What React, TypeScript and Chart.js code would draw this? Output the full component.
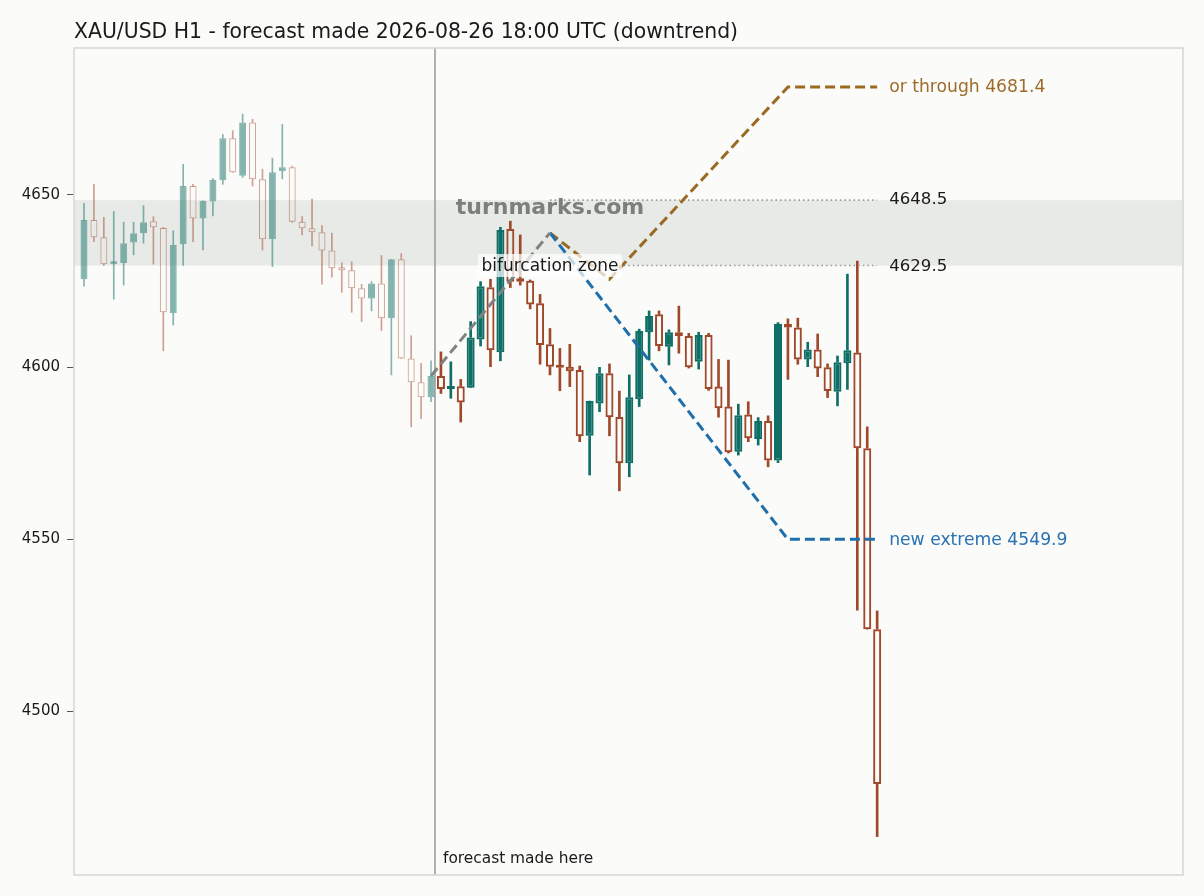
import React, { useEffect, useRef } from "react";
import { Chart, registerables } from "chart.js";

Chart.register(...registerables);

// ---------- data ----------
const histOpen = [4625.5, 4642.7, 4637.7, 4629.9, 4630.2, 4636.2, 4638.9, 4642.4, 4640.4, 4615.6, 4635.7, 4652.6, 4643.2, 4648.1, 4654.3, 4666.5, 4655.6, 4671.1, 4654.6, 4637.1, 4656.9, 4658.1, 4642.2, 4640.3, 4639.2, 4633.9, 4628.7, 4628.1, 4622.9, 4619.9, 4624.3, 4614.2, 4631.3, 4602.5, 4595.6, 4591.2];
const histHigh = [4647.6, 4653.1, 4643.5, 4645.2, 4642.1, 4642.1, 4646.9, 4643.7, 4640.6, 4639.6, 4658.9, 4653.1, 4648.3, 4654.8, 4667.6, 4668.7, 4673.5, 4672.0, 4657.5, 4660.7, 4670.5, 4658.4, 4643.7, 4648.8, 4641.1, 4638.9, 4630.3, 4630.6, 4624.0, 4624.8, 4632.4, 4631.3, 4633.0, 4609.1, 4601.1, 4601.8];
const histLow = [4623.5, 4636.4, 4629.5, 4619.7, 4623.8, 4632.6, 4636.0, 4629.9, 4604.7, 4612.2, 4629.5, 4636.4, 4634.0, 4643.9, 4653.1, 4656.6, 4655.1, 4652.6, 4634.0, 4629.2, 4654.7, 4642.0, 4638.4, 4635.2, 4624.1, 4626.1, 4621.7, 4615.9, 4613.2, 4616.3, 4610.6, 4597.7, 4602.5, 4582.6, 4585.0, 4589.9];
const histClose = [4642.7, 4637.7, 4629.9, 4630.3, 4636.0, 4638.9, 4642.1, 4640.6, 4615.9, 4635.5, 4652.6, 4643.2, 4648.3, 4654.4, 4666.5, 4656.6, 4671.1, 4654.6, 4637.1, 4656.6, 4658.1, 4642.2, 4640.3, 4639.2, 4633.9, 4628.7, 4628.1, 4622.9, 4619.9, 4624.3, 4614.2, 4631.3, 4602.5, 4595.6, 4591.2, 4597.4];

const FC_START = 36;
const fcOpen = [4597.4, 4593.6, 4594.4, 4594.0, 4608.0, 4623.2, 4604.3, 4640.1, 4625.8, 4625.1, 4618.5, 4606.6, 4600.1, 4600.1, 4599.1, 4580.0, 4589.4, 4598.2, 4585.5, 4572.0, 4590.6, 4610.1, 4615.3, 4605.9, 4610.1, 4609.0, 4601.5, 4609.3, 4594.3, 4588.5, 4575.4, 4586.2, 4579.1, 4584.3, 4572.8, 4612.5, 4611.5, 4602.2, 4605.1, 4599.9, 4592.8, 4601.1, 4604.2, 4576.4, 4523.8];
const fcHigh = [4604.4, 4601.5, 4596.4, 4613.2, 4624.8, 4625.5, 4640.6, 4642.4, 4638.4, 4625.3, 4621.1, 4611.2, 4605.4, 4606.6, 4600.3, 4590.1, 4599.9, 4600.9, 4593.0, 4597.7, 4611.0, 4616.3, 4616.3, 4610.8, 4617.7, 4609.8, 4610.1, 4609.8, 4602.2, 4602.0, 4589.2, 4589.9, 4585.3, 4585.8, 4612.9, 4614.0, 4614.2, 4607.2, 4609.6, 4600.9, 4603.2, 4627.0, 4630.8, 4582.6, 4529.1];
const fcLow = [4592.3, 4590.9, 4584.0, 4594.0, 4606.1, 4600.1, 4601.8, 4623.1, 4623.8, 4616.9, 4600.8, 4597.7, 4593.1, 4594.3, 4578.3, 4568.6, 4587.0, 4580.0, 4564.0, 4568.1, 4588.5, 4602.0, 4604.7, 4600.6, 4604.0, 4599.7, 4599.4, 4593.2, 4585.4, 4575.0, 4574.4, 4578.3, 4577.3, 4571.0, 4572.2, 4596.4, 4600.8, 4600.1, 4597.2, 4591.1, 4588.7, 4593.5, 4529.3, 4523.8, 4463.5];
const fcClose = [4593.6, 4594.4, 4589.7, 4608.6, 4623.5, 4604.9, 4639.8, 4624.8, 4624.8, 4618.2, 4606.4, 4600.1, 4599.8, 4598.8, 4579.9, 4590.1, 4598.2, 4585.4, 4572.0, 4591.2, 4610.5, 4614.8, 4606.1, 4610.1, 4609.0, 4599.9, 4609.3, 4593.6, 4588.0, 4575.2, 4586.0, 4579.3, 4584.3, 4572.8, 4612.5, 4611.5, 4602.2, 4605.1, 4599.6, 4593.0, 4601.4, 4604.9, 4576.4, 4523.8, 4478.8];

const leadX = [35, 47];
const leadY = [4597.4, 4639.0];
const upPathX = [47, 53, 71, 80];
const upPathY = [4639.0, 4625.5, 4681.4, 4681.4];
const downPathX = [47, 71, 80];
const downPathY = [4639.0, 4549.9, 4549.9];

const ZONE_HIGH = 4648.5;
const ZONE_LOW = 4629.5;
const ZONE_FROM = 47;
const ZONE_TO = 80;
const FORECAST_AT = 35.4;
const UP_TARGET = 4681.4;
const DOWN_TARGET = 4549.9;

const yTicks = [4500, 4550, 4600, 4650];
const X_MIN = -1.01;
const X_MAX = 110.85;
const Y_MIN = 4452.33;
const Y_MAX = 4692.73;

const TITLE = "XAU/USD H1 - forecast made 2026-08-26 18:00 UTC (downtrend)";

// ---------- styles ----------
const BG = "#fbfbf9";
const TEAL = "#0f6e66";
const BROWN = "#a0482a";
const TEAL_FADE = "rgba(15,110,102,0.5)";
const BROWN_FADE = "rgba(160,72,42,0.5)";
const FONT = "'DejaVu Sans', sans-serif";

function candleSets(open: number[], high: number[], low: number[], close: number[], start: number, faded: boolean) {
  const upC = faded ? TEAL_FADE : TEAL;
  const dnC = faded ? BROWN_FADE : BROWN;
  const wickW = faded ? 1 : 2;
  const bodyW = faded ? 7 : 8;
  const border = faded ? 1 : 2;
  const wickHi: any[] = [];
  const wickLo: any[] = [];
  const bodies: any[] = [];
  const wickColors: string[] = [];
  const bodyFill: string[] = [];
  const bodyBorder: string[] = [];
  open.forEach((o, i) => {
    const c = close[i];
    const up = c >= o;
    const top = Math.max(o, c);
    const bot = Math.min(o, c);
    const x = start + i;
    wickHi.push({ x, y: [top, high[i]] });
    wickLo.push({ x, y: [low[i], bot] });
    bodies.push({ x, y: [o, c] });
    wickColors.push(up ? upC : dnC);
    bodyFill.push(up ? upC : "rgba(0,0,0,0)");
    bodyBorder.push(up ? upC : dnC);
  });
  const base = { type: "bar" as const, grouped: false, order: 5, borderSkipped: false };
  return [
    { ...base, data: wickHi, barThickness: wickW, backgroundColor: wickColors, borderWidth: 0 },
    { ...base, data: wickLo, barThickness: wickW, backgroundColor: wickColors, borderWidth: 0 },
    {
      ...base,
      order: 4,
      data: bodies,
      barThickness: bodyW,
      backgroundColor: bodyFill,
      borderColor: bodyBorder,
      borderWidth: border,
      minBarLength: 3,
      inflateAmount: 0,
    },
  ];
}

function pts(xs: number[], ys: number[]) {
  return xs.map((x, i) => ({ x, y: ys[i] }));
}

const overlay = {
  id: "overlay",
  beforeDraw(chart: any) {
    const { ctx, width, height } = chart;
    ctx.save();
    ctx.fillStyle = BG;
    ctx.fillRect(0, 0, width, height);
    ctx.restore();
  },
  beforeDatasetsDraw(chart: any) {
    const { ctx, chartArea: a, scales } = chart;
    const y = scales.y;
    const x = scales.x;
    ctx.save();
    ctx.fillStyle = "#e8eae7";
    const y1 = y.getPixelForValue(ZONE_HIGH);
    const y2 = y.getPixelForValue(ZONE_LOW);
    ctx.fillRect(a.left, y1, a.right - a.left, y2 - y1);
    const fx = x.getPixelForValue(FORECAST_AT);
    ctx.strokeStyle = "#9aa09d";
    ctx.lineWidth = 1.6;
    ctx.beginPath();
    ctx.moveTo(fx, a.top);
    ctx.lineTo(fx, a.bottom);
    ctx.stroke();
    ctx.restore();
  },
  afterDatasetsDraw(chart: any) {
    const { ctx, chartArea: a, scales } = chart;
    const y = scales.y;
    const x = scales.x;
    ctx.save();
    // watermark
    ctx.font = `bold 22px ${FONT}`;
    ctx.fillStyle = "rgba(110,116,112,0.9)";
    ctx.textAlign = "center";
    ctx.textBaseline = "middle";
    ctx.fillText("turnmarks.com", x.getPixelForValue(ZONE_FROM), y.getPixelForValue(4646.2));

    // bifurcation label
    ctx.font = `17px ${FONT}`;
    const bx = x.getPixelForValue(ZONE_FROM);
    const by = y.getPixelForValue(ZONE_LOW);
    const tw = ctx.measureText("bifurcation zone").width;
    ctx.fillStyle = "rgba(255,255,255,0.72)";
    ctx.beginPath();
    (ctx as any).roundRect(bx - tw / 2 - 3.5, by - 11.5, tw + 7, 23, 3);
    ctx.fill();
    ctx.fillStyle = "#1a1a1a";
    ctx.fillText("bifurcation zone", bx, by + 1);

    // right labels
    const lx = x.getPixelForValue(ZONE_TO) + 12;
    ctx.textAlign = "left";
    ctx.font = `17.2px ${FONT}`;
    ctx.fillStyle = "#9c6c2a";
    ctx.fillText(`or through ${UP_TARGET.toFixed(1)}`, lx, y.getPixelForValue(UP_TARGET) + 1);
    ctx.fillStyle = "#2a72b0";
    ctx.fillText(`new extreme ${DOWN_TARGET.toFixed(1)}`, lx, y.getPixelForValue(DOWN_TARGET) + 1);
    ctx.fillStyle = "#1a1a1a";
    ctx.font = `16.6px ${FONT}`;
    ctx.fillText(ZONE_HIGH.toFixed(1), lx, y.getPixelForValue(ZONE_HIGH));
    ctx.fillText(ZONE_LOW.toFixed(1), lx, y.getPixelForValue(ZONE_LOW) + 1);

    // forecast made here
    ctx.font = `15.4px ${FONT}`;
    ctx.textBaseline = "alphabetic";
    ctx.fillStyle = "#1a1a1a";
    ctx.fillText("forecast made here", x.getPixelForValue(FORECAST_AT) + 8, a.bottom - 12);
    ctx.restore();
  },
  afterDraw(chart: any) {
    const { ctx, chartArea: a } = chart;
    ctx.save();
    ctx.strokeStyle = "#d3d8d5";
    ctx.lineWidth = 1.5;
    ctx.strokeRect(a.left, a.top, a.right - a.left, a.bottom - a.top);
    ctx.font = `20.4px ${FONT}`;
    ctx.fillStyle = "#1a1a1a";
    ctx.textAlign = "left";
    ctx.textBaseline = "alphabetic";
    ctx.fillText(TITLE, a.left, 38);
    ctx.restore();
  },
};

export default function App() {
  const ref = useRef<HTMLCanvasElement | null>(null);
  useEffect(() => {
    if (!ref.current) return;
    Chart.defaults.font.family = FONT;
    const datasets: any[] = [
      ...candleSets(histOpen, histHigh, histLow, histClose, 0, true),
      ...candleSets(fcOpen, fcHigh, fcLow, fcClose, FC_START, false),
      {
        type: "line",
        order: 1,
        data: [
          { x: ZONE_FROM, y: ZONE_HIGH },
          { x: ZONE_TO, y: ZONE_HIGH },
        ],
        borderColor: "#9a9e9b",
        borderWidth: 1.6,
        borderDash: [1.6, 3],
        pointRadius: 0,
      },
      {
        type: "line",
        order: 1,
        data: [
          { x: ZONE_FROM, y: ZONE_LOW },
          { x: ZONE_TO, y: ZONE_LOW },
        ],
        borderColor: "#9a9e9b",
        borderWidth: 1.6,
        borderDash: [1.6, 3],
        pointRadius: 0,
      },
      {
        type: "line",
        order: 0,
        data: pts(leadX, leadY),
        borderColor: "#7d8380",
        borderWidth: 3,
        borderDash: [10, 5],
        pointRadius: 0,
      },
      {
        type: "line",
        order: 0,
        data: pts(downPathX, downPathY),
        borderColor: "#1f6fad",
        borderWidth: 3,
        borderDash: [10, 5],
        pointRadius: 0,
      },
      {
        type: "line",
        order: 0,
        data: pts(upPathX, upPathY),
        borderColor: "#9a6a22",
        borderWidth: 3,
        borderDash: [10, 5],
        pointRadius: 0,
      },
    ];
    const chart = new Chart(ref.current, {
      type: "bar",
      data: { datasets },
      options: {
        responsive: false,
        maintainAspectRatio: false,
        animation: false,
        layout: { padding: { top: 48, right: 21, bottom: 21, left: 0 } },
        plugins: {
          legend: { display: false },
          tooltip: { enabled: false },
          title: { display: false },
        },
        scales: {
          x: {
            type: "linear",
            min: X_MIN,
            max: X_MAX,
            offset: false,
            display: false,
          },
          y: {
            type: "linear",
            min: Y_MIN,
            max: Y_MAX,
            afterFit: (s: any) => {
              s.width = 74;
            },
            afterBuildTicks: (axis: any) => {
              axis.ticks = yTicks.map((v) => ({ value: v }));
            },
            grid: {
              display: true,
              drawOnChartArea: false,
              drawTicks: true,
              tickLength: 7,
              tickColor: "#555",
              tickWidth: 1,
            },
            border: { display: false },
            ticks: {
              color: "#1a1a1a",
              padding: 7,
              font: { family: FONT, size: 15 },
              callback: (v: any) => String(v),
            },
          },
        },
      } as any,
      plugins: [overlay],
    });
    return () => chart.destroy();
  }, []);
  return (
    <div style={{ position: "fixed", left: 0, top: 0, width: 1204, height: 896, background: BG }}>
      <canvas ref={ref} width={1204} height={896} style={{ width: 1204, height: 896, display: "block" }} />
    </div>
  );
}
